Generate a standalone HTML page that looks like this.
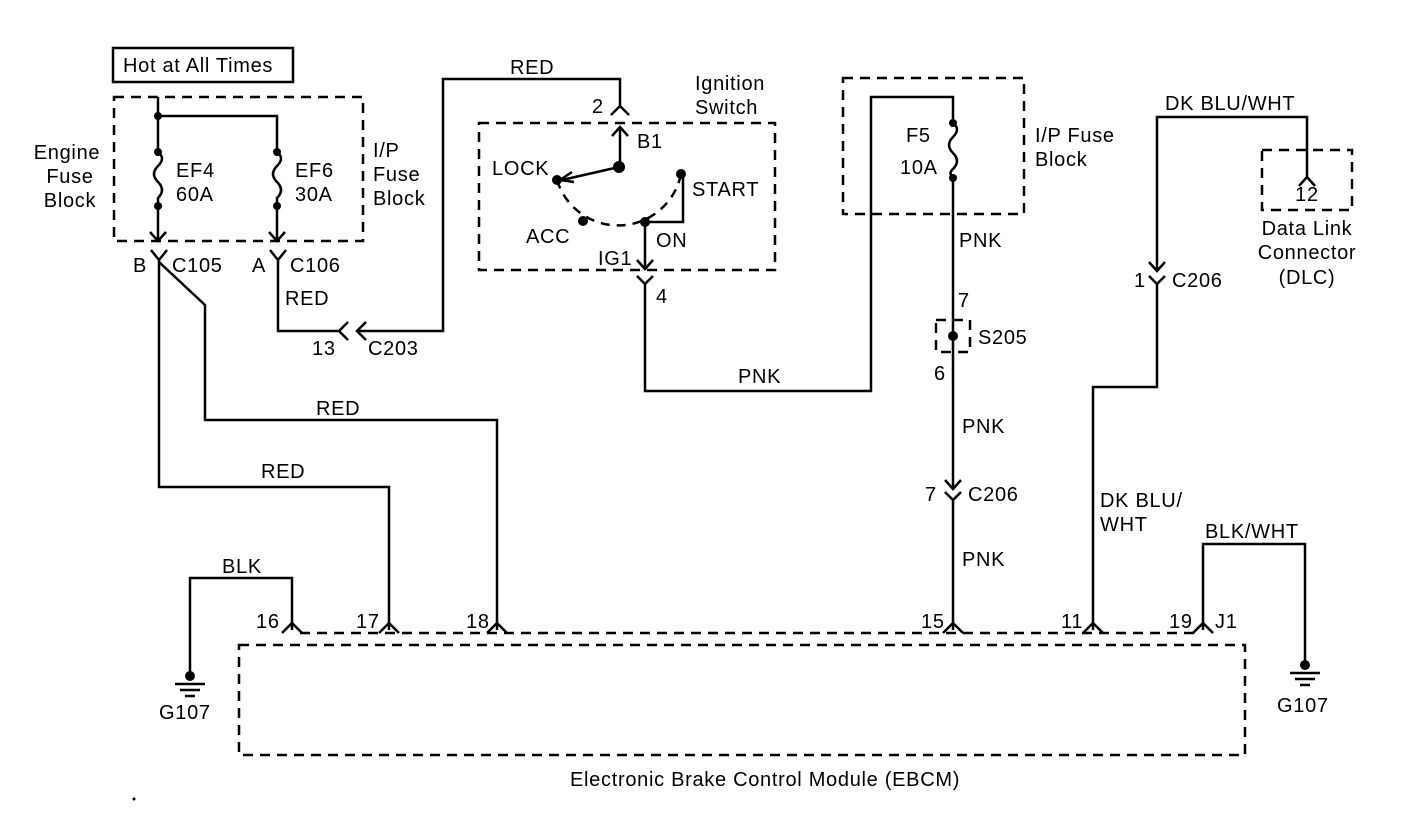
<!DOCTYPE html>
<html><head><meta charset="utf-8"><style>
html,body{margin:0;padding:0;background:#fff;}
svg{display:block;}
text{font-family:"Liberation Sans",sans-serif;font-size:20px;letter-spacing:0.7px;fill:#000;}
</style></head><body>
<svg width="1408" height="828" viewBox="0 0 1408 828" xmlns="http://www.w3.org/2000/svg">
<g fill="none" stroke="#000" stroke-width="2.5">
<rect x="113" y="48" width="180" height="34"/>
<g stroke-dasharray="10,7">
<rect x="114" y="97" width="249" height="144"/>
<rect x="479" y="123" width="296" height="147"/>
<rect x="843" y="78" width="181" height="136"/>
<rect x="1262" y="150" width="90" height="60"/>
<rect x="936" y="320" width="34" height="32"/>
<path d="M239 645 H1245 V755 H239 Z"/>
<path d="M300 633 H1195"/>
</g>
<path d="M158 97 V152 M158 116 H277 V152"/>
<path d="M158 152 q8 6 0 14 q-8 8 0 16 q8 8 0 16 V240 M150 232 l8 9 l8 -9"/>
<path d="M277 152 q8 6 0 14 q-8 8 0 16 q8 8 0 16 V240 M269 232 l8 9 l8 -9"/>
<path d="M151 250 l8 10 l8 -10 M159 260 V487 H389 V630"/>
<path d="M159 262 L205 305 V420 H497 V630"/>
<path d="M270 250 l8 10 l8 -10 M278 260 V331 H338"/>
<path d="M348 322 l-9 9 l9 9 M366 322 l-9 9 l9 9 M358 331 H443 V79 H620 V108"/>
<path d="M611 115 l9 -9 l9 9"/>
<path d="M620 167 V128 M612 136 l8 -9 l8 9"/>
<path d="M619 167 L562 180 M572 172 l-12 8 l14 2"/>
<path d="M557 180 A64 64 0 0 0 681 174" stroke-dasharray="9,7"/>
<path d="M645 222 V268 M637 260 l8 9 l8 -9 M683 176 V222 H648"/>
<path d="M637 276 l8 8 l8 -8 M645 284 V391 H871 V97 H953 V123"/>
<path d="M953 123 q8 6 0 14 q-8 8 0 16 q8 8 0 16 q-5 4 0 9 V488 M945 480 l8 9 l8 -9"/>
<path d="M945 492 l8 8 l8 -8 M953 500 V630"/>
<path d="M1157 270 V117 H1307 V178 M1299 186 l8 -9 l8 9"/>
<path d="M1149 262 l8 9 l8 -9 M1149 276 l8 8 l8 -8 M1157 284 V387 H1093 V630"/>
<path d="M1203 630 V544 H1305 V665"/>
<path d="M292 630 V578 H190 V676"/>
<path d="M282 633 l10 -10 l10 10 M379 633 l10 -10 l10 10 M487 633 l10 -10 l10 10 M943 633 l10 -10 l10 10 M1083 633 l10 -10 l10 10 M1193 633 l10 -10 l10 10"/>
<path d="M175 684 H205 M180 690 H200 M185 696 H195"/>
<path d="M1290 673 H1320 M1295 679 H1315 M1300 685 H1310"/>
</g>
<g fill="#000">
<circle cx="158" cy="116" r="4"/><circle cx="158" cy="152" r="4"/><circle cx="158" cy="206" r="4"/>
<circle cx="277" cy="152" r="4"/><circle cx="277" cy="206" r="4"/>
<circle cx="619" cy="167" r="6"/><circle cx="557" cy="180" r="5"/><circle cx="583" cy="221" r="5"/>
<circle cx="645" cy="222" r="5"/><circle cx="681" cy="174" r="5"/>
<circle cx="953" cy="123" r="4"/><circle cx="953" cy="178" r="4"/><circle cx="953" cy="336" r="5"/>
<circle cx="190" cy="676" r="5"/><circle cx="1305" cy="665" r="5"/>
<circle cx="134" cy="799" r="1.5"/>
</g>
<text x="123" y="72">Hot at All Times</text>
<g text-anchor="middle"><text x="67" y="159">Engine</text><text x="70" y="183">Fuse</text><text x="70" y="207">Block</text></g>
<text x="176" y="177">EF4</text><text x="176" y="201">60A</text>
<text x="295" y="177">EF6</text><text x="295" y="201">30A</text>
<text x="373" y="157">I/P</text><text x="373" y="181">Fuse</text><text x="373" y="205">Block</text>
<text x="133" y="272">B</text><text x="172" y="272">C105</text>
<text x="252" y="272">A</text><text x="290" y="272">C106</text>
<text x="285" y="305">RED</text>
<text x="312" y="355">13</text><text x="368" y="355">C203</text>
<text x="510" y="74">RED</text>
<text x="695" y="90">Ignition</text><text x="695" y="114">Switch</text>
<text x="592" y="113">2</text><text x="637" y="148">B1</text>
<text x="492" y="175">LOCK</text><text x="692" y="196">START</text>
<text x="526" y="243">ACC</text><text x="656" y="247">ON</text>
<text x="598" y="265">IG1</text><text x="656" y="303">4</text>
<text x="738" y="383">PNK</text>
<text x="906" y="142">F5</text><text x="900" y="174">10A</text>
<text x="1035" y="142">I/P Fuse</text><text x="1035" y="166">Block</text>
<text x="959" y="247">PNK</text><text x="958" y="307">7</text><text x="978" y="344">S205</text><text x="934" y="380">6</text>
<text x="962" y="433">PNK</text><text x="925" y="501">7</text><text x="968" y="501">C206</text><text x="962" y="566">PNK</text>
<text x="1165" y="110">DK BLU/WHT</text>
<g text-anchor="middle"><text x="1307" y="201">12</text>
<text x="1307" y="235">Data Link</text><text x="1307" y="259">Connector</text><text x="1307" y="284">(DLC)</text></g>
<text x="1134" y="287">1</text><text x="1172" y="287">C206</text>
<text x="1100" y="507">DK BLU/</text><text x="1100" y="531">WHT</text>
<text x="1205" y="538">BLK/WHT</text>
<text x="316" y="415">RED</text><text x="261" y="478">RED</text>
<text x="222" y="573">BLK</text>
<text x="256" y="628">16</text><text x="356" y="628">17</text><text x="466" y="628">18</text>
<text x="921" y="628">15</text><text x="1061" y="628">11</text><text x="1169" y="628">19</text><text x="1215" y="628">J1</text>
<text x="159" y="719">G107</text><text x="1277" y="712">G107</text>
<text x="570" y="786">Electronic Brake Control Module (EBCM)</text>
</svg>
</body></html>
